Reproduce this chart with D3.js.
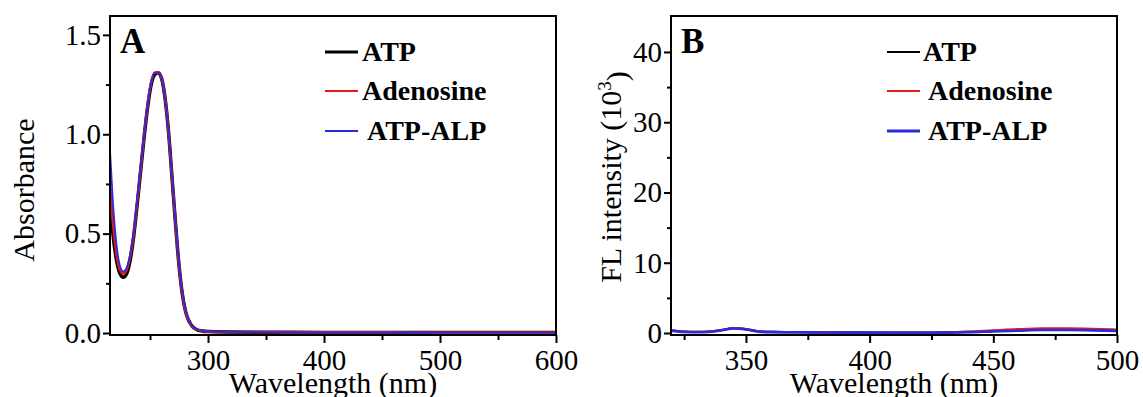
<!DOCTYPE html>
<html>
<head>
<meta charset="utf-8">
<script src="https://cdn.jsdelivr.net/npm/d3@7"></script>
<style>
  body { margin: 0; background: #fff; }
  text { font-family: "Liberation Serif", "Times New Roman", serif; fill: #000; }
</style>
</head>
<body>
<script>
// panel A: absorbance
var wlA = [215,218,221,224,227,230,233,236,239,242,245,248,251,254,257,260,263,266,269,272,275,278,281,284,287,290,295,300,320,350,400,450,500,550,600];
var atpA = [0.70,0.50,0.37,0.30,0.28,0.30,0.37,0.49,0.65,0.82,0.99,1.14,1.25,1.30,1.31,1.28,1.18,1.01,0.78,0.55,0.34,0.19,0.10,0.055,0.03,0.018,0.010,0.007,0.005,0.004,0.003,0.003,0.002,0.002,0.002];
var adenosineA = [0.80,0.56,0.40,0.32,0.30,0.32,0.39,0.50,0.66,0.83,1.00,1.15,1.26,1.31,1.31,1.28,1.18,1.01,0.78,0.55,0.34,0.19,0.10,0.055,0.03,0.018,0.010,0.007,0.005,0.004,0.003,0.003,0.002,0.002,0.002];
var atpAlpA = [0.97,0.66,0.45,0.34,0.31,0.33,0.40,0.51,0.67,0.84,1.00,1.15,1.26,1.31,1.31,1.28,1.18,1.01,0.79,0.56,0.35,0.20,0.11,0.06,0.032,0.02,0.011,0.008,0.005,0.004,0.003,0.003,0.002,0.002,0.002];

// panel B: fluorescence (10^3)
var wlB = [320,325,330,335,340,345,350,355,360,370,380,390,400,410,420,430,440,450,460,470,480,490,500];
var atpB = [0.35,0.2,0.15,0.2,0.4,0.7,0.55,0.25,0.15,0.12,0.1,0.08,0.07,0.06,0.06,0.08,0.15,0.3,0.45,0.55,0.55,0.5,0.4];
var adenosineB = [0.35,0.2,0.15,0.2,0.4,0.7,0.55,0.25,0.15,0.12,0.1,0.08,0.07,0.06,0.06,0.1,0.2,0.38,0.55,0.65,0.65,0.6,0.5];
var atpAlpB = [0.3,0.15,0.1,0.15,0.35,0.65,0.5,0.2,0.12,0.1,0.08,0.06,0.05,0.04,0.04,0.05,0.1,0.22,0.33,0.42,0.42,0.38,0.3];

var seriesNames = ['ATP', 'Adenosine', 'ATP-ALP'];
var colors = ['#000000', '#e01b1b', '#2a2ae0'];

var ticksA = { xMajor: [300,400,500,600], xMinor: [250,350,450,550], yMajor: [0,0.5,1.0,1.5], yMinor: [0.25,0.75,1.25] };
var ticksB = { xMajor: [350,400,450,500], xMinor: [325,375,425,475], yMajor: [0,10,20,30,40], yMinor: [5,15,25,35] };

var svg = d3.select('body').append('svg')
  .attr('width', 1143)
  .attr('height', 397);

function panel(opt) {
  var x = d3.scaleLinear().domain(opt.xDomain).range([opt.left, opt.right]);
  var y = d3.scaleLinear().domain(opt.yDomain).range([opt.bottom, opt.top]);
  var g = svg.append('g');

  g.append('clipPath').attr('id', opt.id)
    .append('rect')
    .attr('x', opt.left).attr('y', opt.top)
    .attr('width', opt.right - opt.left).attr('height', opt.bottom - opt.top);

  // minor ticks
  g.append('g').attr('transform', 'translate(0,' + opt.bottom + ')')
    .call(d3.axisBottom(x).tickValues(opt.ticks.xMinor).tickSize(5).tickSizeOuter(0).tickFormat(''))
    .call(function(a) { a.select('.domain').remove(); a.selectAll('line').attr('stroke-width', 2); });
  g.append('g').attr('transform', 'translate(' + opt.left + ',0)')
    .call(d3.axisLeft(y).tickValues(opt.ticks.yMinor).tickSize(4).tickSizeOuter(0).tickFormat(''))
    .call(function(a) { a.select('.domain').remove(); a.selectAll('line').attr('stroke-width', 2); });

  // major ticks
  g.append('g').attr('transform', 'translate(0,' + opt.bottom + ')')
    .call(d3.axisBottom(x).tickValues(opt.ticks.xMajor).tickSize(8).tickPadding(6).tickSizeOuter(0).tickFormat(d3.format('d')))
    .call(function(a) {
      a.select('.domain').remove();
      a.selectAll('line').attr('stroke-width', 2);
      a.selectAll('text').style('font-size', '29px').style('font-family', '"Liberation Serif", serif');
    });
  g.append('g').attr('transform', 'translate(' + opt.left + ',0)')
    .call(d3.axisLeft(y).tickValues(opt.ticks.yMajor).tickSize(7).tickPadding(2).tickSizeOuter(0).tickFormat(d3.format(opt.yFormat)))
    .call(function(a) {
      a.select('.domain').remove();
      a.selectAll('line').attr('stroke-width', 2);
      a.selectAll('text').style('font-size', '29px').style('font-family', '"Liberation Serif", serif');
    });

  // lines
  var line = d3.line()
    .x(function(d) { return x(d[0]); })
    .y(function(d) { return y(d[1]); })
    .curve(d3.curveMonotoneX);
  opt.series.forEach(function(s, i) {
    g.append('path')
      .datum(opt.wl.map(function(w, j) { return [w, s[j]]; }))
      .attr('clip-path', 'url(#' + opt.id + ')')
      .attr('fill', 'none')
      .attr('stroke', colors[i])
      .attr('stroke-width', opt.widths[i])
      .attr('stroke-linejoin', 'round')
      .attr('d', line);
  });

  // frame
  g.append('rect')
    .attr('x', opt.left).attr('y', opt.top)
    .attr('width', opt.right - opt.left).attr('height', opt.bottom - opt.top)
    .attr('fill', 'none').attr('stroke', '#000').attr('stroke-width', 2);

  // panel letter
  g.append('text').attr('x', opt.left + 10).attr('y', 53)
    .style('font-size', '35px').style('font-weight', 'bold').text(opt.letter);

  // legend
  seriesNames.forEach(function(name, i) {
    g.append('line')
      .attr('x1', opt.legX).attr('x2', opt.legX + 33)
      .attr('y1', opt.legY[i]).attr('y2', opt.legY[i])
      .attr('stroke', colors[i]).attr('stroke-width', opt.legW[i]);
    g.append('text')
      .attr('x', opt.legTextX[i]).attr('y', opt.legY[i] + 9)
      .style('font-size', '28px').style('font-weight', 'bold').text(name);
  });

  // axis titles
  g.append('text')
    .attr('x', (opt.left + opt.right) / 2).attr('y', 393)
    .attr('text-anchor', 'middle').style('font-size', '30px')
    .text('Wavelength (nm)');

  var yt = g.append('text')
    .attr('transform', 'translate(' + opt.yTitleX + ',' + opt.yTitleY + ') rotate(-90)')
    .attr('text-anchor', 'middle').style('font-size', '30px');
  yt.append('tspan').text(opt.yTitle);
  if (opt.yTitleSup) {
    yt.append('tspan').attr('dy', '-0.55em').style('font-size', '19px').text(opt.yTitleSup);
    yt.append('tspan').attr('dy', '0.55em').text(')');
  }
}

panel({
  id: 'clipA', letter: 'A',
  left: 110, right: 556, top: 16, bottom: 335,
  xDomain: [215.5, 600], yDomain: [-0.01, 1.595],
  ticks: ticksA, yFormat: '.1f',
  wl: wlA, series: [atpA, adenosineA, atpAlpA], widths: [3.5, 2.6, 1.8],
  legX: 325, legY: [52, 91, 131], legTextX: [362, 362, 367], legW: [3, 2, 2],
  yTitle: 'Absorbance', yTitleX: 34, yTitleY: 190
});

panel({
  id: 'clipB', letter: 'B',
  left: 671, right: 1117, top: 16, bottom: 335,
  xDomain: [319.7, 500], yDomain: [-0.285, 45.12],
  ticks: ticksB, yFormat: 'd',
  wl: wlB, series: [atpB, adenosineB, atpAlpB], widths: [2.2, 2.2, 2.6],
  legX: 887, legY: [52, 91, 131], legTextX: [923, 928, 928], legW: [2, 2, 3],
  yTitle: 'FL intensity (10', yTitleSup: '3', yTitleX: 621, yTitleY: 177
});
</script>
</body>
</html>
